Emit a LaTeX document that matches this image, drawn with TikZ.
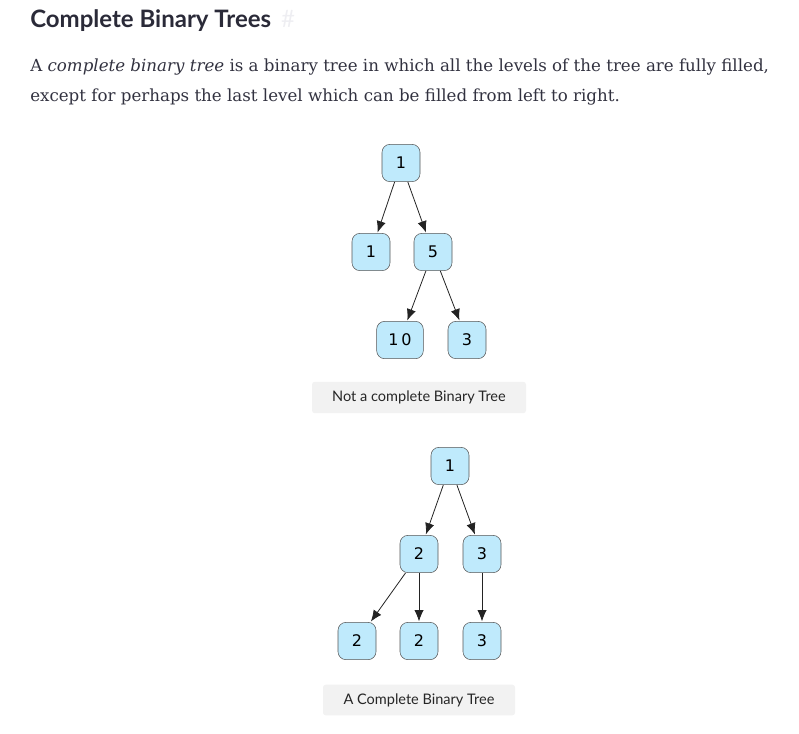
\documentclass[tikz,border=0pt]{standalone}
\usepackage{fontspec}
\setmainfont{DejaVu Serif}
\newfontfamily\headfont{Lato}
\newfontfamily\nodefont{DejaVu Sans}
\usetikzlibrary{arrows.meta,positioning}
\definecolor{treeBlue}{RGB}{191, 234, 252}
\definecolor{treeBorder}{RGB}{85, 85, 85}
\definecolor{treeArrow}{RGB}{35, 35, 35}
\definecolor{captionGray}{RGB}{242, 242, 242}
\definecolor{headText}{RGB}{42, 42, 56}
\definecolor{bodyText}{RGB}{50, 50, 64}
\definecolor{hashGray}{RGB}{238, 238, 242}

\begin{document}
\begin{tikzpicture}[
  x=0.75pt,y=-0.75pt,
  treenode/.style={draw=treeBorder,fill=treeBlue,rounded corners=6pt,minimum width=28.5pt,minimum height=28pt,inner sep=2pt,font=\nodefont\fontsize{12}{14}\selectfont},
  arrow/.style={-{Latex[length=8.5pt,width=7pt]},treeArrow,semithick,shorten >=0.5pt},
  caption/.style={fill=captionGray,rounded corners=2pt,inner sep=0pt,font=\headfont\fontsize{10.9}{13}\selectfont,text=black!85}
]
  \useasboundingbox (0,0) rectangle (799,733);
  % heading and paragraph
  \node[anchor=base west,inner sep=0pt,text=headText,font=\headfont\bfseries\fontsize{18}{21}\selectfont] (title) at (30,27.5) {Complete Binary Trees};
  \node[inner sep=0pt,text=hashGray,font=\headfont\fontsize{18}{21}\selectfont,right=7pt of title.base east,anchor=base west] (hash) {\#};
  \node[anchor=base west,inner sep=0pt,text=bodyText,font=\fontsize{12.5}{15}\selectfont] (lineone) at (30,71) {A \textit{complete binary tree} is a binary tree in which all the levels of the tree are fully filled,};
  \node[anchor=base west,inner sep=0pt,text=bodyText,font=\fontsize{12.5}{15}\selectfont] (linetwo) at (30,101) {except for perhaps the last level which can be filled from left to right.};

  % first tree
  \node[treenode] (aroot) at (401,163) {1};
  \node[treenode] (aleft) at (371,252) {1};
  \node[treenode] (aright) at (433,252) {5};
  \node[treenode,minimum width=35pt] (arl) at (400,340) {1\,0};
  \node[treenode] (arr) at (467,340) {3};
  \draw[arrow] (aroot) -- (aleft);
  \draw[arrow] (aroot) -- (aright);
  \draw[arrow] (aright) -- (arl);
  \draw[arrow] (aright) -- (arr);
  \node[caption,minimum width=160.5pt,minimum height=23.5pt] (acap) at (419,397.5) {Not a complete Binary Tree};

  % second tree
  \node[treenode] (broot) at (450,466) {1};
  \node[treenode] (bleft) at (419,554) {2};
  \node[treenode] (bright) at (482,554) {3};
  \node[treenode] (bll) at (357,641) {2};
  \node[treenode] (blr) at (419,641) {2};
  \node[treenode] (brl) at (482,641) {3};
  \draw[arrow] (broot) -- (bleft);
  \draw[arrow] (broot) -- (bright);
  \draw[arrow] (bleft) -- (bll);
  \draw[arrow] (bleft) -- (blr);
  \draw[arrow] (bright) -- (brl);
  \node[caption,minimum width=144pt,minimum height=23pt] (bcap) at (419,700) {A Complete Binary Tree};
\end{tikzpicture}
\end{document}
